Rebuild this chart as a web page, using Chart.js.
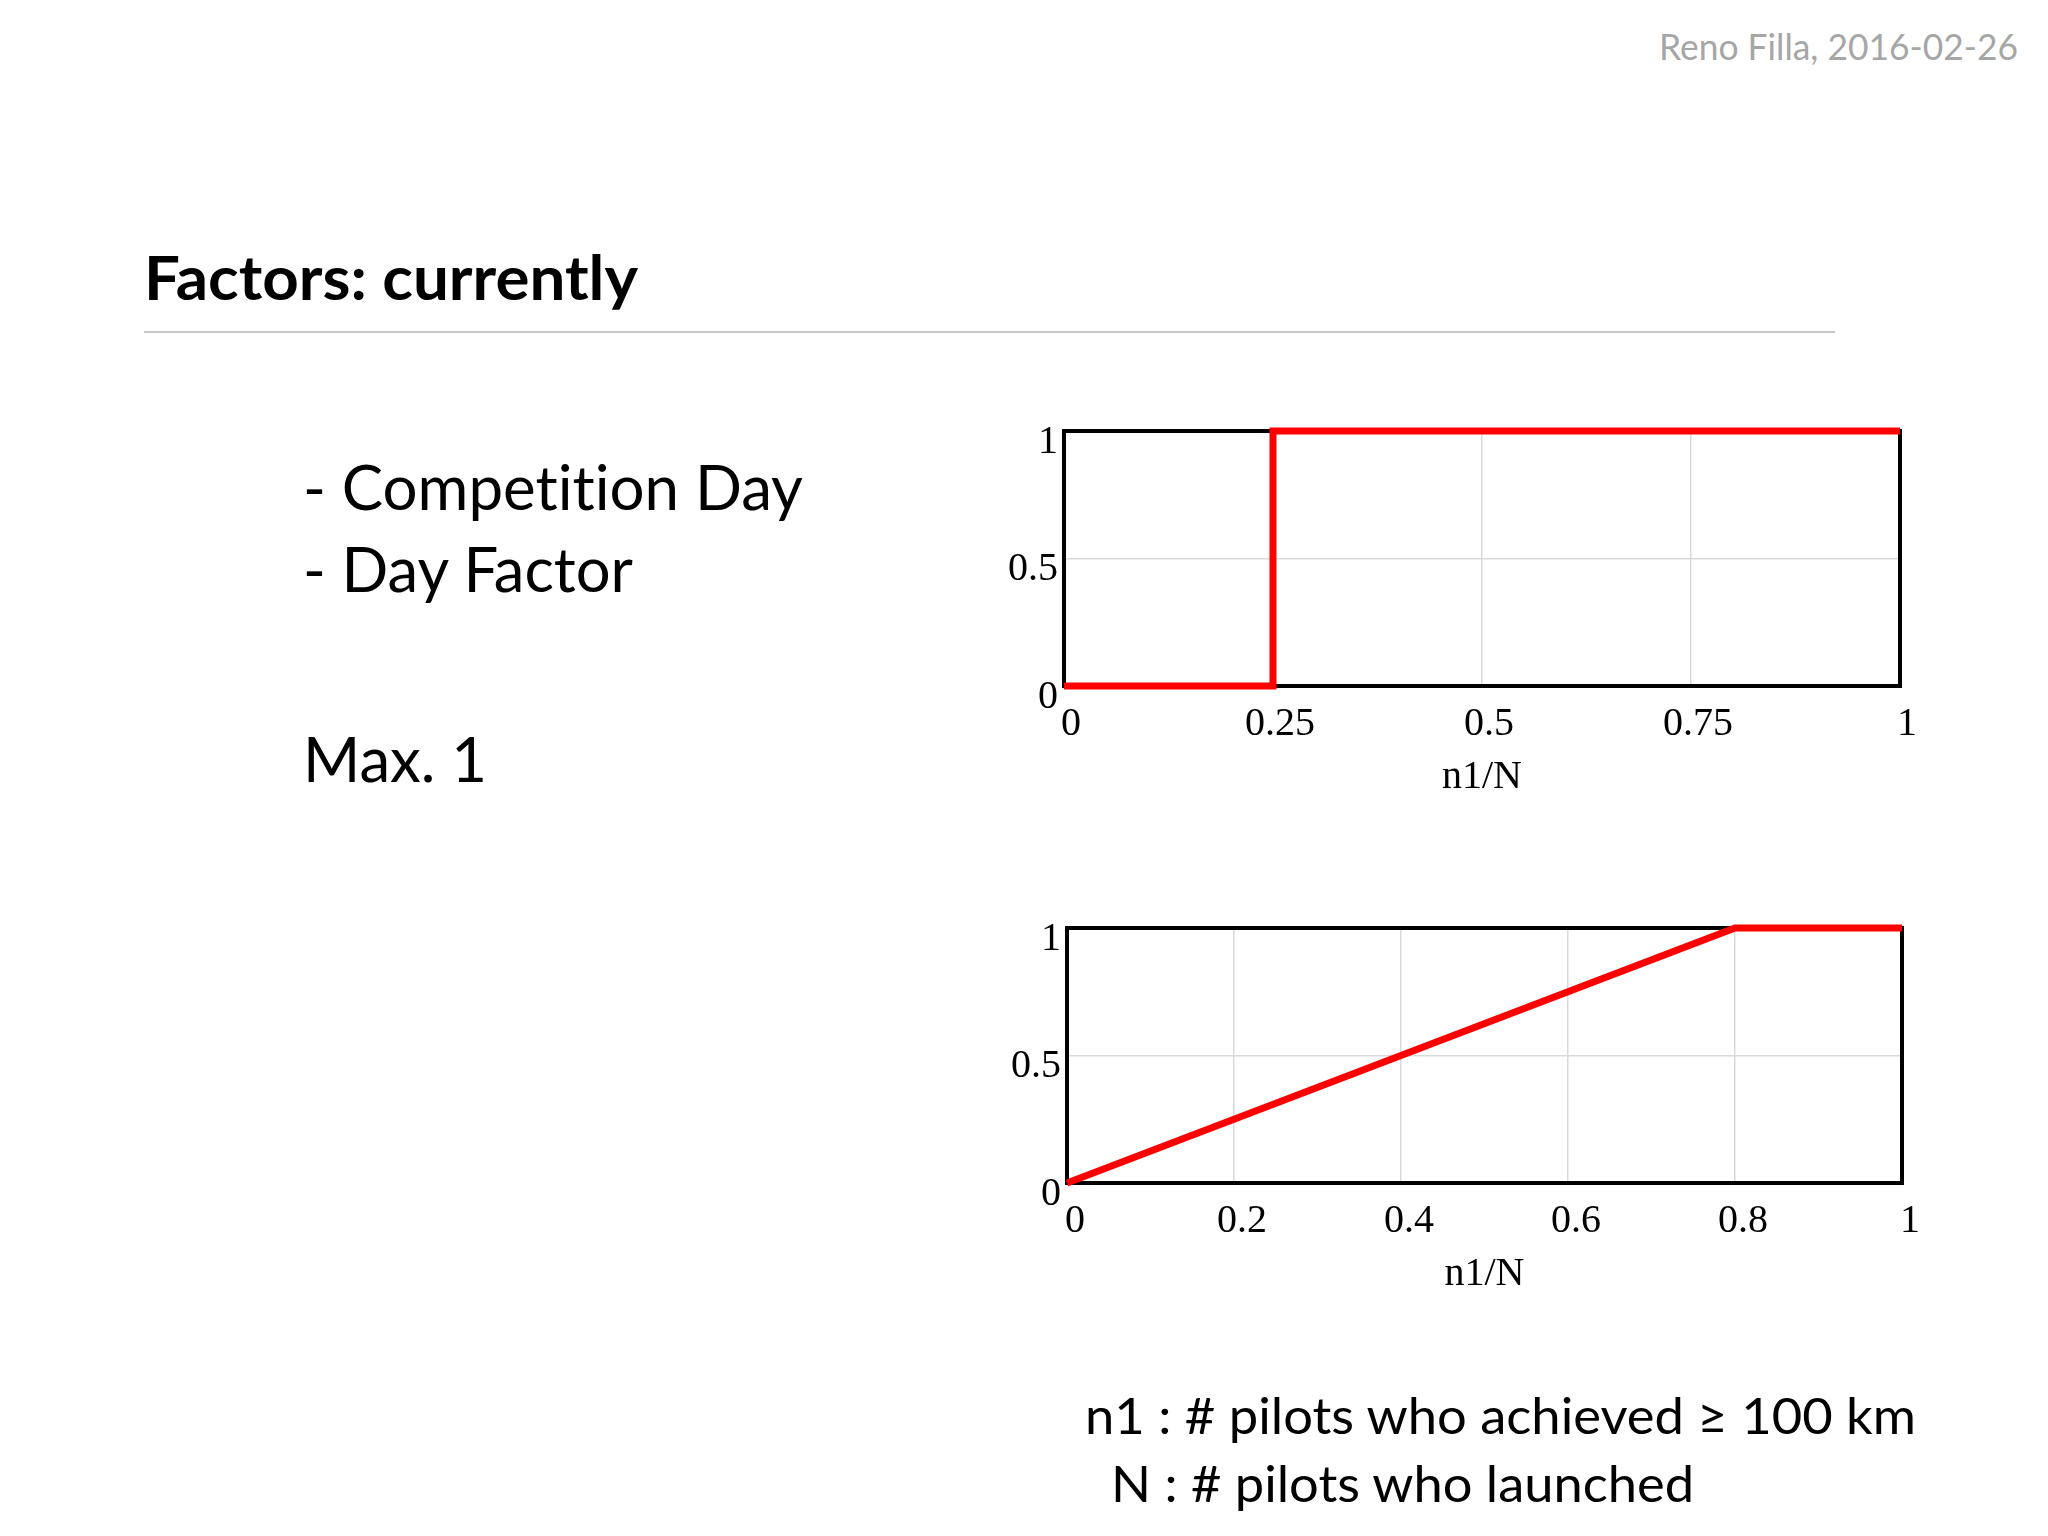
<!DOCTYPE html>
<html>
<head>
<meta charset="utf-8">
<script src="https://cdn.jsdelivr.net/npm/chart.js@4.4.1/dist/chart.umd.min.js"></script>
<style>
  html, body { margin: 0; padding: 0; background: #fff; }
  body { width: 2048px; height: 1536px; position: relative; overflow: hidden; }
  svg.slide { position: absolute; left: 0; top: 0; }
  svg.slide text { font-variant-ligatures: none; font-feature-settings: "liga" 0, "clig" 0, "dlig" 0; }
  canvas { position: absolute; }
  #dayChart    { left: 960px; top: 400px; }
  #factorChart { left: 960px; top: 897px; }
</style>
</head>
<body>
<svg class="slide" width="2048" height="1536" font-family="Lato, 'Open Sans', sans-serif">
  <text x="2018" y="60" text-anchor="end" font-size="36" fill="#a6a6a6" textLength="359" lengthAdjust="spacingAndGlyphs">Reno Filla, 2016-02-26</text>
  <text x="144" y="300" font-size="61" font-weight="700" fill="#000" textLength="494" lengthAdjust="spacingAndGlyphs">Factors: currently</text>
  <line x1="144" y1="332" x2="1835" y2="332" stroke="#c8c8c8" stroke-width="2"/>
  <text x="303" y="510" font-size="61" fill="#000" textLength="500" lengthAdjust="spacingAndGlyphs">- Competition Day</text>
  <text x="303" y="592" font-size="61" fill="#000" textLength="330" lengthAdjust="spacingAndGlyphs">- Day Factor</text>
  <text x="303" y="782" font-size="61" fill="#000" textLength="184" lengthAdjust="spacingAndGlyphs">Max. 1</text>
  <text x="1085" y="1434" font-size="51" fill="#000" textLength="831" lengthAdjust="spacingAndGlyphs">n1 : # pilots who achieved ≥ 100 km</text>
  <text x="1111" y="1502" font-size="51" fill="#000" textLength="583" lengthAdjust="spacingAndGlyphs">N : # pilots who launched</text>
</svg>

<canvas id="dayChart" width="1000" height="420"></canvas>
<canvas id="factorChart" width="1000" height="420"></canvas>

<script>
// ── DATA ──────────────────────────────────────────────────────────────────

// competition day: step at n1/N = 0.25
const stepX = [0, 0.25, 0.25, 1];
const stepY = [0, 0, 1, 1];

// day factor: linear up to n1/N = 0.8, then capped at 1
const rampX = [0, 0.8, 1];
const rampY = [0, 1, 1];

const stepXTicks = [0, 0.25, 0.5, 0.75, 1];
const rampXTicks = [0, 0.2, 0.4, 0.6, 0.8, 1];
const yTicks     = [0, 0.5, 1];
const xTitle     = 'n1/N';

// ── CHARTS ────────────────────────────────────────────────────────────────

const SERIF = { family: "'Liberation Serif', 'Times New Roman', serif", size: 40 };

// black box around the plot area (drawn under the red line)
const framePlugin = {
  id: 'frame',
  beforeDatasetsDraw(chart) {
    const a = chart.chartArea;
    const c = chart.ctx;
    c.save();
    c.lineWidth = 4;
    c.strokeStyle = '#000';
    c.strokeRect(a.left, a.top, a.right - a.left, a.bottom - a.top);
    c.restore();
  }
};

function initFactorChart(canvasId, xs, ys, xTicks, dims) {
  const el = document.getElementById(canvasId);
  return new Chart(el, {
    type: 'line',
    data: {
      datasets: [{
        data:             xs.map((x, i) => ({ x: x, y: ys[i] })),
        borderColor:      '#ff0000',
        borderWidth:      7,
        borderJoinStyle:  'miter',
        pointRadius:      0,
        tension:          0,
        fill:             false,
        clip:             false
      }]
    },
    options: {
      responsive:       false,
      devicePixelRatio: 1,
      animation:        false,
      layout: { padding: { top: 31, right: dims.right, left: 0, bottom: 0 } },
      plugins: {
        legend:  { display: false },
        tooltip: { enabled: false }
      },
      scales: {
        x: {
          type: 'linear',
          min: 0,
          max: 1,
          afterBuildTicks: s => { s.ticks = xTicks.map(v => ({ value: v })); },
          afterFit: s => { s.height = 134; },
          border: { display: false },
          grid:   { color: '#d9d9d9', lineWidth: 1.5, drawTicks: false },
          ticks:  {
            font: SERIF, color: '#000', padding: 14, labelOffset: dims.xOff,
            autoSkip: false, maxRotation: 0,
            callback: v => String(v)
          },
          title: {
            display: true, text: xTitle, font: SERIF, color: '#000',
            padding: { top: 0, bottom: 19 }
          }
        },
        y: {
          min: 0,
          max: 1,
          afterBuildTicks: s => { s.ticks = yTicks.map(v => ({ value: v })); },
          afterFit: s => { s.width = dims.yWidth; },
          border: { display: false },
          grid:   { color: '#d9d9d9', lineWidth: 1.5, drawTicks: false },
          ticks:  {
            font: SERIF, color: '#000', padding: 6, labelOffset: 11,
            callback: v => String(v)
          }
        }
      }
    },
    plugins: [framePlugin]
  });
}

initFactorChart('dayChart',    stepX, stepY, stepXTicks, { yWidth: 104, right: 60, xOff: 7 });
initFactorChart('factorChart', rampX, rampY, rampXTicks, { yWidth: 107, right: 58, xOff: 8 });
</script>
</body>
</html>
